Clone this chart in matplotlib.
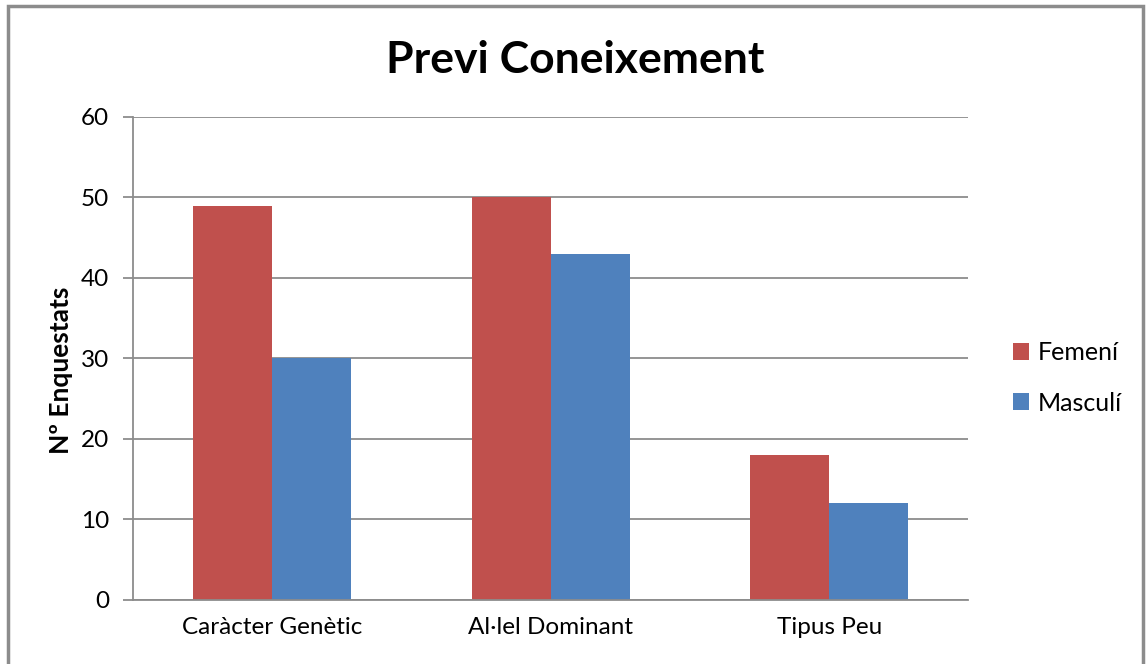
import numpy as np
import matplotlib
matplotlib.use("Agg")
from matplotlib import pyplot as plt
from matplotlib.patches import Rectangle

# Dades
categories = ["Caràcter Genètic", "Al·lel Dominant", "Tipus Peu"]
femeni = [49, 50, 18]
masculi = [30, 43, 12]
y_ticks = [0, 10, 20, 30, 40, 50, 60]

plt.rcParams['font.family'] = ['Lato', 'DejaVu Sans']

fig = plt.figure(figsize=(11.46, 6.64), dpi=100)
ax = fig.add_axes([0.116, 0.0964, 0.729, 0.7274])

# Marc del gràfic
fig.patches.append(Rectangle((8 / 1146, -0.05), 1135 / 1146, 1.05 - 6 / 664,
                             transform=fig.transFigure, fill=False,
                             edgecolor="#8c8c8c", linewidth=2.5))

x = np.arange(len(categories))
w = 0.284
ax.bar(x - w / 2, femeni, w, color="#C0504D", label="Femení", zorder=3)
ax.bar(x + w / 2, masculi, w, color="#4F81BD", label="Masculí", zorder=3)

ax.set_xlim(-0.5, len(categories) - 0.5)
ax.set_ylim(0, 60)
ax.set_yticks(y_ticks)
ax.set_xticks(x)
ax.set_xticklabels(categories, fontsize=17.5)
ax.tick_params(axis="y", labelsize=17.5, length=7, width=1.3, color="#8c8c8c", pad=10)
ax.tick_params(axis="x", length=0, pad=12)
ax.yaxis.grid(True, color="#8c8c8c", linewidth=1.3, zorder=0)

for s in ["top", "right"]:
    ax.spines[s].set_visible(False)
ax.spines["left"].set_color("#8c8c8c")
ax.spines["left"].set_linewidth(1.3)
ax.spines["bottom"].set_color("#8c8c8c")
ax.spines["bottom"].set_linewidth(1.3)
ax.spines["bottom"].set_zorder(4)

ax.set_ylabel("Nº Enquestats", fontsize=19, fontweight="bold")
ax.yaxis.set_label_coords(-0.072, 0.475)
fig.text(0.502, 0.91, "Previ Coneixement", ha="center", va="center",
         fontsize=32, fontweight="bold")

ax.legend(loc="center left", bbox_to_anchor=(1.026, 0.46), frameon=False,
          fontsize=18, handlelength=0.65, handleheight=0.65, labelspacing=1.1,
          handletextpad=0.35)

fig.savefig("out.png", dpi=100)
